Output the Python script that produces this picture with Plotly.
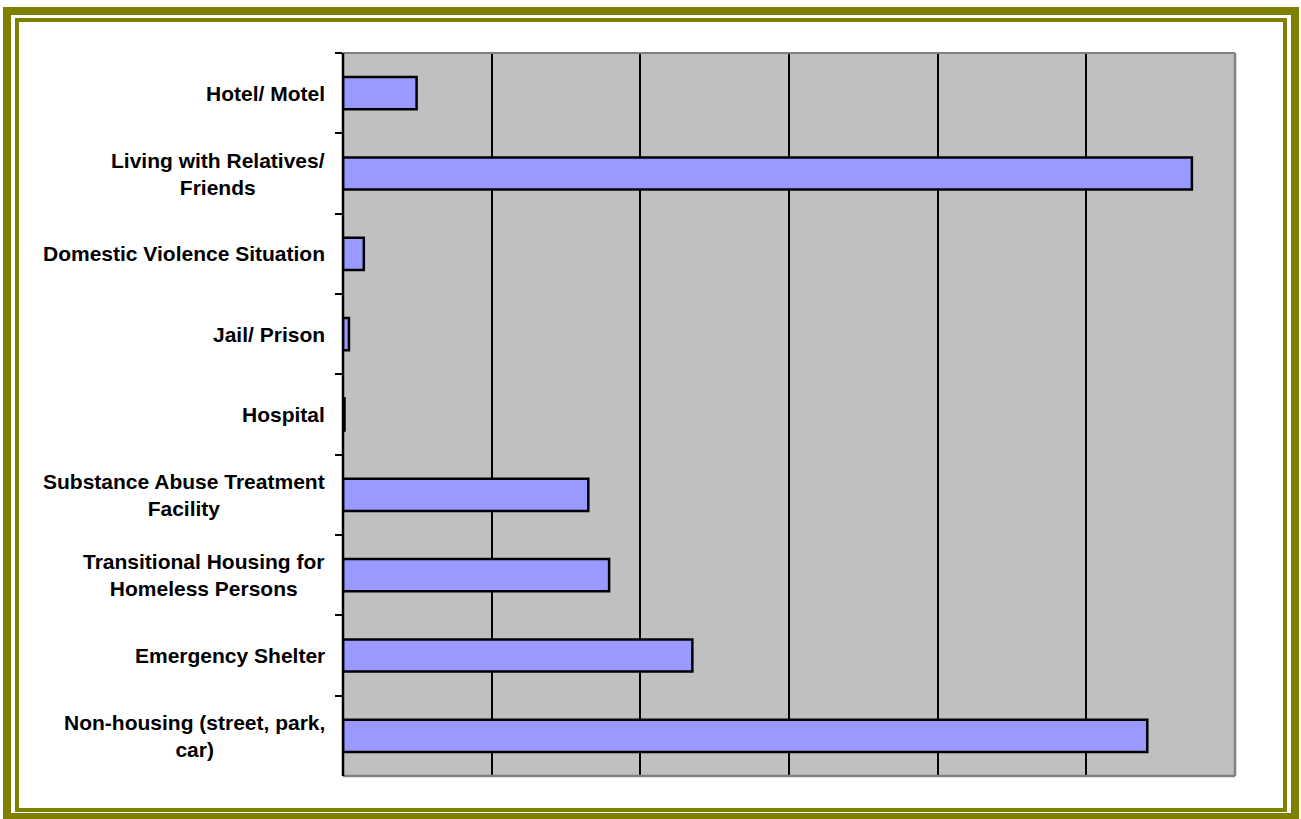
import plotly.graph_objects as go

categories = [
    "Hotel/ Motel",
    "Living with Relatives/<br>Friends",
    "Domestic Violence Situation",
    "Jail/ Prison",
    "Hospital",
    "Substance Abuse Treatment<br>Facility",
    "Transitional Housing for<br>Homeless Persons",
    "Emergency Shelter",
    "Non-housing (street, park,<br>car)",
]
values = [49.5, 571, 14, 4, 1, 165, 179, 235, 541]

W, H = 1301, 819
L, R, T, B = 343, 1235, 53, 776


def px(x):
    return (x - L) / (R - L)


def py(y):
    return (B - y) / (B - T)


fig = go.Figure()
fig.add_trace(go.Bar(
    y=categories,
    x=values,
    orientation="h",
    width=0.4,
    marker=dict(color="#9999FF", line=dict(color="black", width=2.5)),
    hoverinfo="x+y",
))

annotations = []
for c in categories:
    annotations.append(dict(
        x=px(327), xref="paper", y=c, yref="y",
        text="<b>" + c + "</b>", showarrow=False,
        xanchor="right", yanchor="middle", align="center",
        font=dict(family="Arial, Liberation Sans, sans-serif", size=21, color="black"),
    ))

shapes = [
    # outer olive frame
    dict(type="rect", xref="paper", yref="paper",
         x0=px(7), x1=px(1295), y0=py(11), y1=py(817),
         line=dict(color="#808000", width=8), layer="above"),
    # inner olive frame
    dict(type="rect", xref="paper", yref="paper",
         x0=px(17), x1=px(1285), y0=py(20), y1=py(810),
         line=dict(color="#808000", width=4), layer="above"),
    # plot border gray (top, right, bottom)
    dict(type="line", xref="paper", yref="paper", x0=0, x1=1, y0=1, y1=1,
         line=dict(color="#808080", width=2), layer="above"),
    dict(type="line", xref="paper", yref="paper", x0=1, x1=1, y0=0, y1=1,
         line=dict(color="#808080", width=2.5), layer="above"),
    dict(type="line", xref="paper", yref="paper", x0=0, x1=1, y0=0, y1=0,
         line=dict(color="#808080", width=2.5), layer="above"),
    # left axis black
    dict(type="line", xref="paper", yref="paper", x0=0, x1=0, y0=0, y1=1,
         line=dict(color="black", width=2.5), layer="above"),
]

fig.update_layout(
    width=W, height=H,
    margin=dict(l=L, r=W - R, t=T, b=H - B, pad=0),
    paper_bgcolor="white",
    plot_bgcolor="#C0C0C0",
    showlegend=False,
    annotations=annotations,
    shapes=shapes,
    xaxis=dict(
        range=[0, 600], tickvals=[100, 200, 300, 400, 500],
        showticklabels=False, ticks="",
        showgrid=True, gridcolor="black", gridwidth=2,
        zeroline=False, showline=False, fixedrange=True,
    ),
    yaxis=dict(
        type="category", categoryorder="array", categoryarray=categories,
        autorange="reversed",
        showticklabels=False,
        ticks="outside", tickson="boundaries", ticklen=7, tickwidth=2, tickcolor="black",
        showgrid=False, zeroline=False, showline=False, fixedrange=True,
    ),
)

fig.write_html(
    "out.html",
    config={"displayModeBar": False},
    post_script="document.body.style.margin='0';document.body.style.overflow='hidden';",
)
